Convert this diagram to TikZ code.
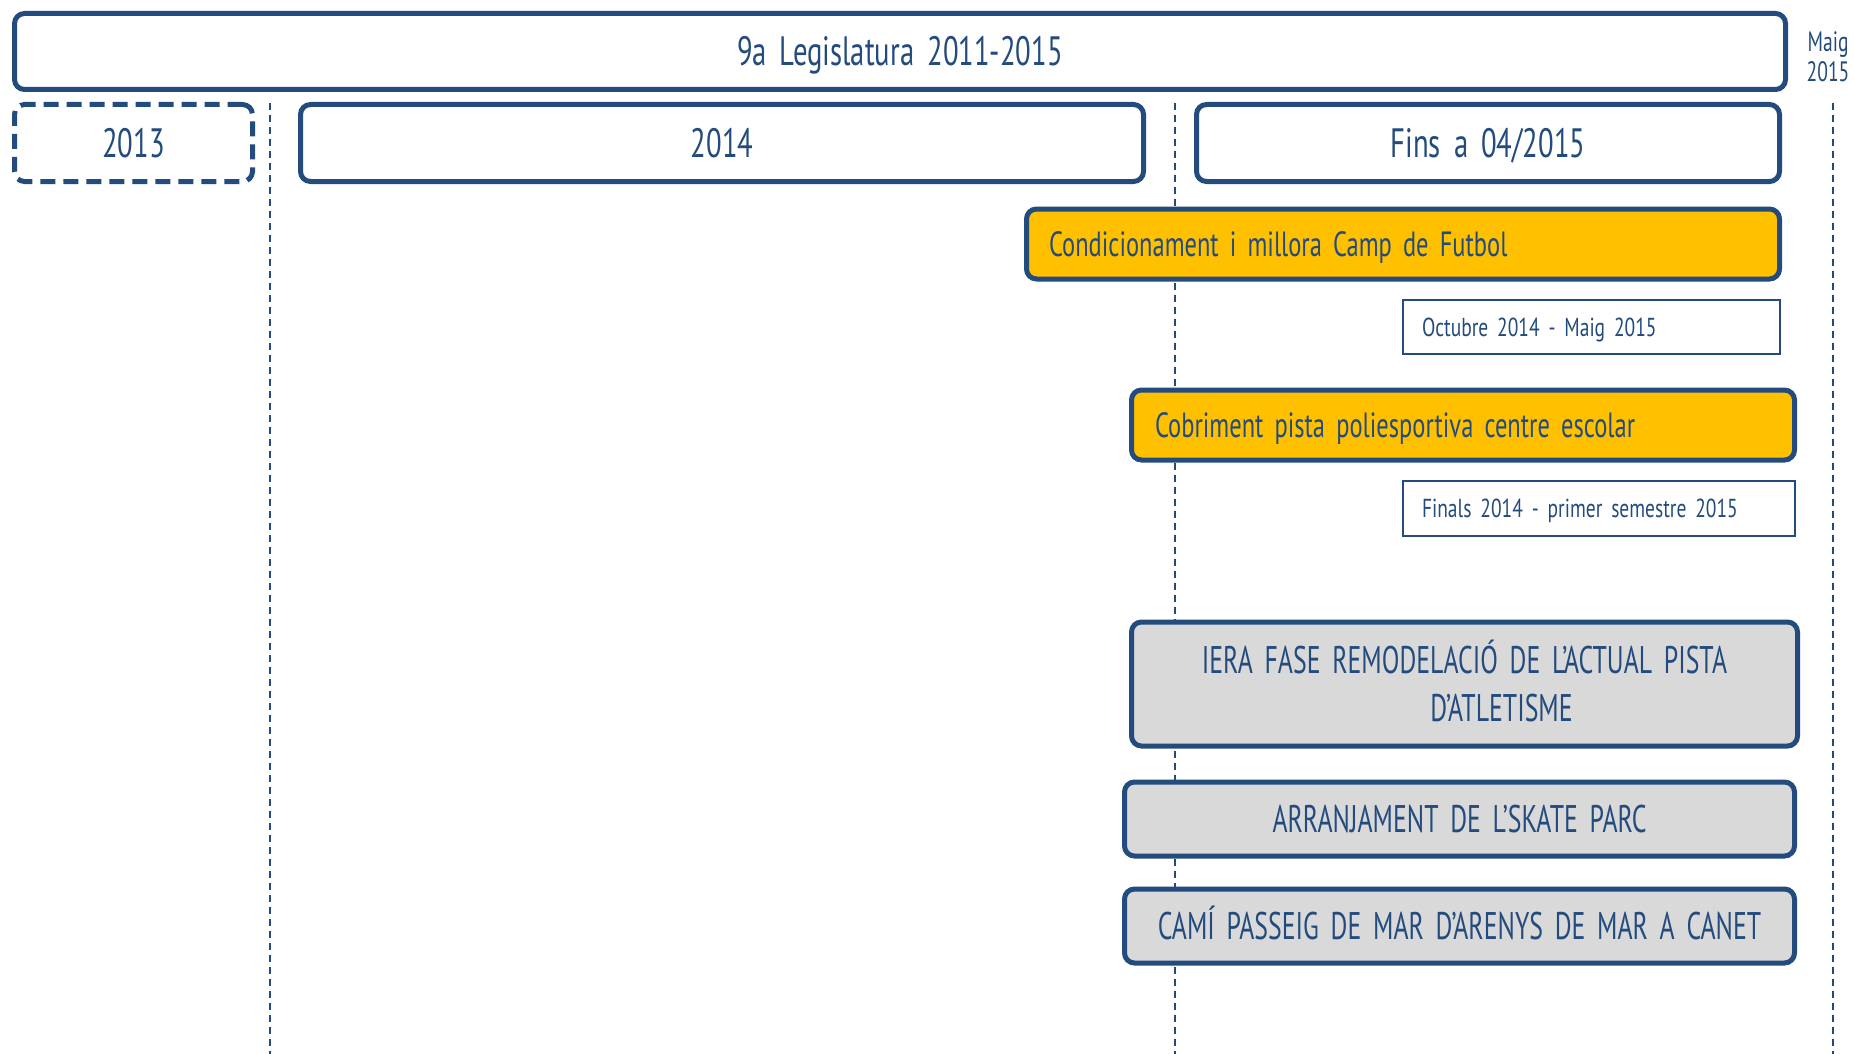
\documentclass[tikz,border=0pt]{standalone}
\usepackage{fontspec}
\setmainfont[FakeStretch=0.70,WordSpace=1.7]{PT Sans}
\newfontfamily\capsfont[FakeStretch=0.67,WordSpace=1.7]{PT Sans}
\newfontfamily\datefont[FakeStretch=0.75,WordSpace=1.7]{PT Sans}
\definecolor{navy}{RGB}{35,75,125}
\definecolor{gold}{RGB}{255,192,0}
\definecolor{lgray}{RGB}{217,217,217}
\begin{document}
\begin{tikzpicture}[x=1pt,y=-1pt,
  box/.style={draw=navy,line width=5pt,rounded corners=10pt,fill=white,text=navy,inner sep=0pt,align=center,text depth=0pt},
  yearbox/.style={box,font=\fontsize{41}{48}\selectfont,text height=28.7pt},
  taskbox/.style={box,fill=gold,font=\fontsize{35}{42}\selectfont,align=flush left,text height=24.5pt},
  grayboxst/.style={box,fill=lgray,font=\capsfont\fontsize{38.5}{48}\selectfont,text height=27pt},
  datebox/.style={draw=navy,line width=2pt,fill=white,text=navy,inner sep=0pt,align=flush left,font=\datefont\fontsize{26}{30}\selectfont,text height=18.2pt,text depth=0pt},
  guide/.style={draw=navy,line width=1.5pt,dash pattern=on 7pt off 5pt}]
\useasboundingbox (0,0) rectangle (1854,1054);
% guides
\coordinate (g1t) at (270,103); \coordinate (g1b) at (270,1054);
\coordinate (g2t) at (1175,103); \coordinate (g2b) at (1175,1054);
\coordinate (g3t) at (1833,103); \coordinate (g3b) at (1833,1054);
\draw[guide] (g1t) -- (g1b);
\draw[guide] (g2t) -- (g2b);
\draw[guide] (g3t) -- (g3b);
% header
\node[box,minimum width=1771pt,minimum height=76pt,font=\fontsize{41}{44}\selectfont,text height=28.7pt] (leg) at (900,51.5) {9a Legislatura 2011-2015};
\node[text=navy,align=center,font=\fontsize{28}{30}\selectfont] (maig) at (1828,57) {Maig\\2015};
\node[yearbox,dash pattern=on 15pt off 8pt,minimum width=238pt,minimum height=77pt] (y13) at (133.5,143) {2013};
\node[yearbox,minimum width=843pt,minimum height=77pt] (y14) at (722,143) {2014};
\node[yearbox,minimum width=583pt,minimum height=77pt] (y15) at (1488,143) {Fins a 04/2015};
% tasks
\node[taskbox,minimum width=753pt,minimum height=70pt,text width=708pt] (t1) at (1403,244) {Condicionament i millora Camp de Futbol};
\node[datebox,minimum width=377pt,minimum height=54pt,text width=339pt] (d1) at (1591.5,327) {Octubre 2014 - Maig 2015};
\node[taskbox,minimum width=663pt,minimum height=70pt,text width=616pt] (t2) at (1463,425) {Cobriment pista poliesportiva centre escolar};
\node[datebox,minimum width=392pt,minimum height=55pt,text width=354pt] (d2) at (1599,508.5) {Finals 2014 - primer semestre 2015};
\node[grayboxst,minimum width=666pt,minimum height=124pt,text height=75pt] (t3) at (1464.5,684) {IERA FASE REMODELACIÓ DE L’ACTUAL PISTA\\\hspace*{74pt}D’ATLETISME};
\node[grayboxst,minimum width=670pt,minimum height=74pt] (t4) at (1459.5,819) {ARRANJAMENT DE L’SKATE PARC};
\node[grayboxst,minimum width=670pt,minimum height=74pt] (t5) at (1459.5,926) {CAMÍ PASSEIG DE MAR D’ARENYS DE MAR A CANET};
\end{tikzpicture}
\end{document}
